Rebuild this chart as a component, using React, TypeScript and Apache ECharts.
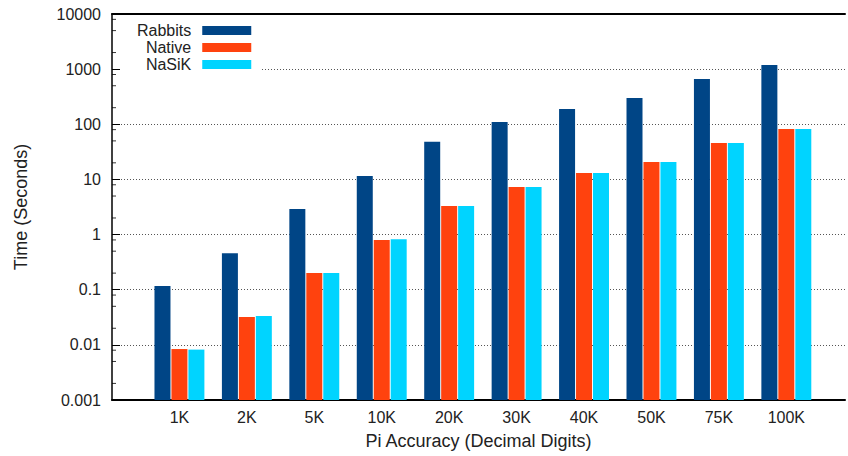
import React, { useEffect, useRef } from "react";
import * as echarts from "echarts";

const categories = ["1K", "2K", "5K", "10K", "20K", "30K", "40K", "50K", "75K", "100K"];
const rabbits = [0.117, 0.46, 2.9, 11.5, 48, 110, 189, 300, 660, 1190];
const native = [0.0084, 0.032, 0.2, 0.8, 3.3, 7.3, 13.1, 20.7, 46, 82];
const nasik = [0.0082, 0.0334, 0.2, 0.82, 3.3, 7.3, 13.1, 20.7, 46, 82];
const yTickLabels = ["0.001", "0.01", "0.1", "1", "10", "100", "1000", "10000"];
const minorTickValues = [
  0.002, 0.005, 0.008, 0.02, 0.05, 0.08, 0.2, 0.5, 0.8, 2, 5, 8, 20, 50, 80, 200, 500, 800, 2000, 5000, 8000,
];

const FONT = "Liberation Sans, Arial, Helvetica, sans-serif";
const TEXT = "#222";
const X_MIN = -1;
const X_MAX = 9.87;

export default function App() {
  const ref = useRef<HTMLDivElement>(null);
  useEffect(() => {
    if (!ref.current) return;
    const chart = echarts.init(ref.current, null, { renderer: "svg" });
    const mk = (arr: number[]) => arr.map((v, i) => [i, v]);
    const xLabel = (v: number) => {
      const r = Math.round(v);
      return Math.abs(v - r) < 1e-6 && categories[r] ? categories[r] : "";
    };
    chart.setOption({
      animation: false,
      backgroundColor: "#fff",
      textStyle: { fontFamily: FONT },
      grid: { left: 112, right: 0, top: 14, bottom: 56, containLabel: false },
      legend: {
        orient: "vertical",
        align: "right",
        left: 121,
        top: 15,
        padding: [7, 9, 4, 16],
        backgroundColor: "#fff",
        itemGap: 0,
        itemWidth: 49,
        itemHeight: 9,
        icon: "rect",
        selectedMode: false,
        data: ["Rabbits", "Native", "NaSiK"],
        textStyle: { fontSize: 16, color: TEXT, fontFamily: FONT, lineHeight: 17, padding: [0, 6, 0, 0] },
      },
      xAxis: [
        {
          type: "value",
          min: X_MIN,
          max: X_MAX,
          interval: 1,
          position: "bottom",
          name: "Pi Accuracy (Decimal Digits)",
          nameLocation: "middle",
          nameGap: 32,
          nameTextStyle: { fontSize: 18, color: TEXT, fontFamily: FONT },
          axisLine: { show: true, onZero: false, lineStyle: { color: "#000", width: 2 } },
          axisTick: { show: false },
          splitLine: { show: false },
          axisLabel: { formatter: xLabel, fontSize: 16, color: TEXT, margin: 9, fontFamily: FONT },
        },
        {
          type: "value",
          min: X_MIN,
          max: X_MAX,
          position: "top",
          axisLine: { show: true, onZero: false, lineStyle: { color: "#000", width: 2 } },
          axisTick: { show: false },
          splitLine: { show: false },
          axisLabel: { show: false },
        },
      ],
      yAxis: {
        type: "log",
        logBase: 10,
        min: 0.001,
        max: 10000,
        splitNumber: 7,
        startValue: 0.001,
        name: "Time (Seconds)",
        nameLocation: "middle",
        nameGap: 82,
        nameTextStyle: { fontSize: 18, color: TEXT, fontFamily: FONT },
        axisLine: { show: true, onZero: false, lineStyle: { color: "#000", width: 1.5 } },
        axisTick: { show: true, inside: true, length: 8, lineStyle: { color: "#000", width: 1 } },
        splitLine: { show: true, lineStyle: { color: "#555", type: [1, 2], width: 1 } },
        axisLabel: {
          fontSize: 16,
          color: TEXT,
          margin: 11,
          fontFamily: FONT,
          formatter: (v: number) => {
            const idx = Math.round(Math.log10(v)) + 3;
            return yTickLabels[idx] ?? "";
          },
        },
      },
      series: [
        {
          name: "Rabbits",
          type: "bar",
          data: mk(rabbits),
          barWidth: 16,
          barGap: "6%",
          itemStyle: { color: "#004586" },
        },
        {
          name: "Native",
          type: "bar",
          data: mk(native),
          barWidth: 16,
          barGap: "6%",
          itemStyle: { color: "#ff420e" },
        },
        {
          name: "NaSiK",
          type: "bar",
          data: mk(nasik),
          barWidth: 16,
          barGap: "6%",
          itemStyle: { color: "#00d4ff" },
        },
        {
          name: "minorTicks",
          type: "scatter",
          data: minorTickValues.map((v) => [X_MIN, v]),
          symbol: "rect",
          symbolSize: [4, 1],
          symbolOffset: [2, 0],
          clip: false,
          silent: true,
          itemStyle: { color: "#000" },
          z: 5,
        },
      ],
    });
    return () => chart.dispose();
  }, []);
  return <div ref={ref} style={{ position: "absolute", left: 0, top: 0, width: 848, height: 456 }} />;
}
